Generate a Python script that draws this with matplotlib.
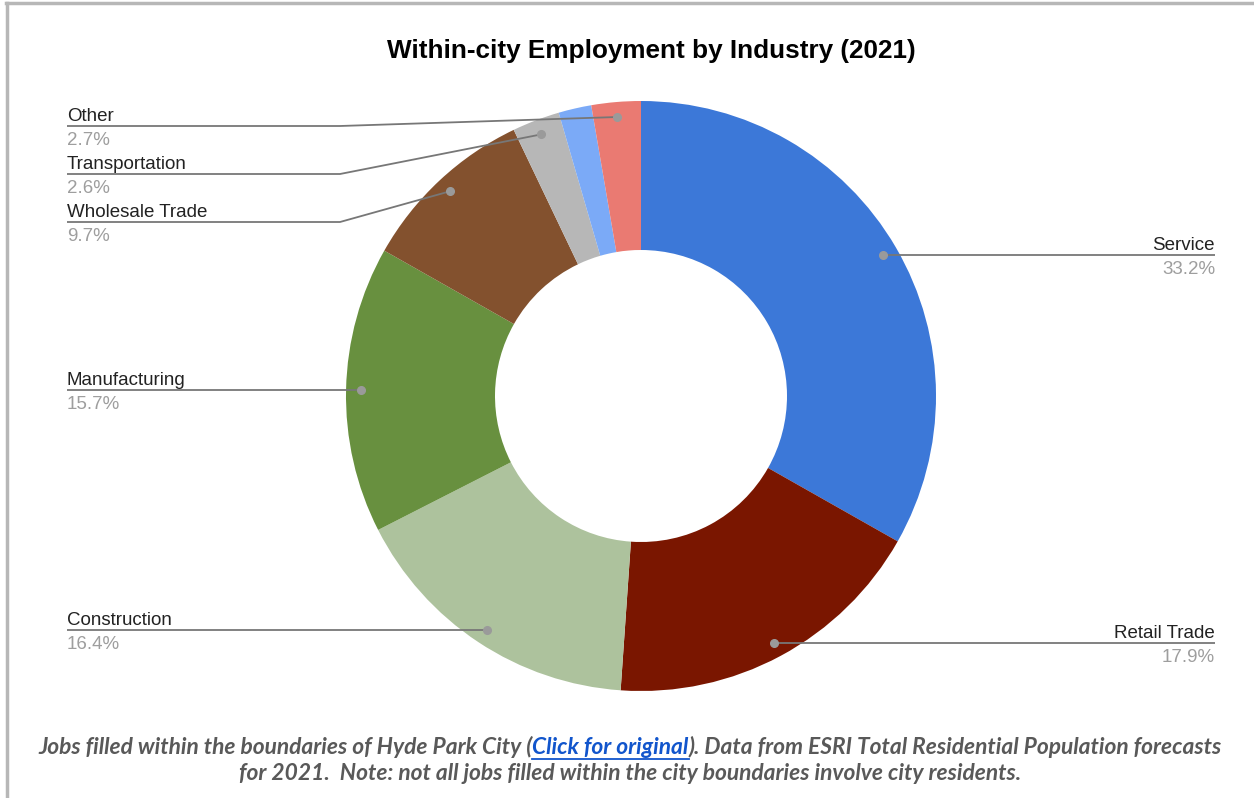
import matplotlib
matplotlib.use("Agg")
import matplotlib.pyplot as plt
import numpy as np
from matplotlib.lines import Line2D

# Share of within-city jobs by industry, 2021 (percent)
industries = ["Service", "Retail Trade", "Construction", "Manufacturing",
              "Wholesale Trade", "Transportation", "", "Other"]
shares = [33.2, 17.9, 16.4, 15.7, 9.7, 2.6, 1.8, 2.7]
colors = ["#3c78d8", "#7a1600", "#adc29d", "#68903f",
          "#83512e", "#b7b7b7", "#7baaf7", "#ea7a72"]

title = "Within-city Employment by Industry (2021)"
caption_parts = [("Jobs filled within the boundaries of Hyde Park City (", "#595959"),
                 ("Click for original", "#1155cc"),
                 ("). Data from ESRI Total Residential Population forecasts", "#595959")]
caption_line2 = "for 2021.  Note: not all jobs filled within the city boundaries involve city residents."

# small slices on the left get stacked labels (line heights, px from top)
stacked_y = {"Other": 126, "Transportation": 174, "Wholesale Trade": 222}

W, H = 1254, 798
fig = plt.figure(figsize=(W / 100, H / 100), dpi=100)
ax = fig.add_axes([0, 0, 1, 1])

cx, cy = 641, H - 396
r_out, r_in = 295, 146
ax.pie(shares, colors=colors, startangle=90, counterclock=False,
       radius=r_out, center=(cx, cy),
       wedgeprops=dict(width=r_out - r_in, linewidth=0))
ax.set_xlim(0, W)
ax.set_ylim(0, H)
ax.axis("off")

total = float(sum(shares))
cum = np.cumsum([0] + shares[:-1])
r_dot = 280
name_kw = dict(fontsize=13.5, color="#222222", family="Liberation Sans")
pct_kw = dict(fontsize=13.5, color="#9e9e9e", family="Liberation Sans")
line_kw = dict(color="#777777", lw=1.3, solid_capstyle="butt")

for name, val, c0 in zip(industries, shares, cum):
    if not name:
        continue
    theta = np.deg2rad(90 - 360 * (c0 + val / 2) / total)
    dx, dy = cx + r_dot * np.cos(theta), cy + r_dot * np.sin(theta)
    pct = f"{val:.1f}%"
    if np.cos(theta) > 0:
        x_txt = 1215
        ax.plot([dx, x_txt], [dy, dy], **line_kw)
        ax.text(x_txt, dy + 5, name, ha="right", va="baseline", **name_kw)
        ax.text(x_txt, dy - 19, pct, ha="right", va="baseline", **pct_kw)
    else:
        x_txt = 67
        if name in stacked_y:
            ly = H - stacked_y[name]
            ax.plot([x_txt, 340, dx], [ly, ly, dy], **line_kw)
        else:
            ly = dy
            ax.plot([x_txt, dx], [ly, ly], **line_kw)
        ax.text(x_txt, ly + 5, name, ha="left", va="baseline", **name_kw)
        ax.text(x_txt, ly - 19, pct, ha="left", va="baseline", **pct_kw)
    ax.plot(dx, dy, "o", color="#9a9a9a", ms=5.5, zorder=5)

fig.text(651 / W, 1 - 51 / H, title, ha="center", va="center",
         fontsize=18.8, weight="bold", family="Liberation Sans", color="#000000")

# caption: three pieces on the first line, the middle one styled as a link
cap_kw = dict(family="Lato", style="italic", weight="bold", fontsize=16.4)
renderer = fig.canvas.get_renderer()
pieces = []
for txt, col in caption_parts:
    t = fig.text(0, 1 - 747 / H, txt, ha="left", va="center", color=col, **cap_kw)
    pieces.append(t)
widths = [p.get_window_extent(renderer).width for p in pieces]
x0 = 630 - sum(widths) / 2
for p, w in zip(pieces, widths):
    p.set_x(x0 / W)
    x0 += w
link = pieces[1]
lx = link.get_window_extent(renderer)
fig.add_artist(Line2D([lx.x0 / W, lx.x1 / W], [(lx.y0 - 1) / H] * 2,
                      color="#1155cc", lw=1.3))
fig.text(630 / W, 1 - 773 / H, caption_line2, ha="center", va="center",
         color="#595959", **cap_kw)

# frame around the chart area
fig.add_artist(Line2D([7 / W, 7 / W], [0, 1 - 3 / H], color="#b7b7b7", lw=2.5))
fig.add_artist(Line2D([6 / W, 1], [1 - 3 / H, 1 - 3 / H], color="#b7b7b7", lw=2.5))

fig.savefig("out.png", dpi=100, facecolor="white")
